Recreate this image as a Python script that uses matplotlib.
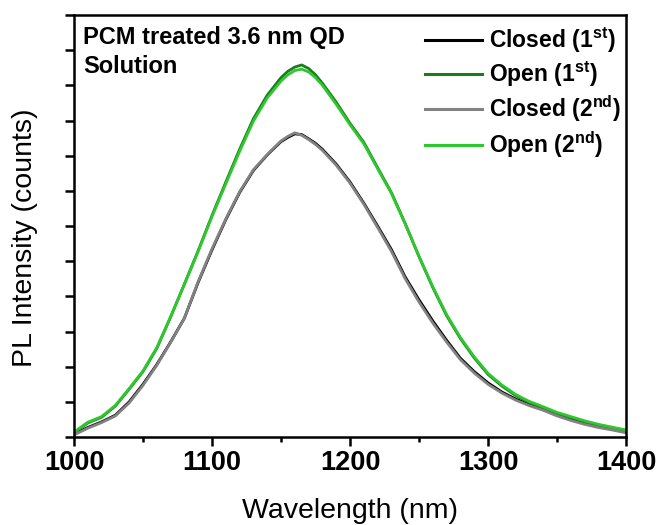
import matplotlib
matplotlib.use("Agg")
import matplotlib.pyplot as plt
from matplotlib.ticker import MultipleLocator, NullFormatter

plt.rcParams['font.family'] = ['Liberation Sans', 'DejaVu Sans']
plt.rcParams['mathtext.fontset'] = 'custom'
plt.rcParams['mathtext.rm'] = 'Liberation Sans:bold'
plt.rcParams['mathtext.bf'] = 'Liberation Sans:bold'

# ---- data ----
wavelength = [1000, 1010, 1020, 1030, 1040, 1050, 1060, 1070, 1080, 1090,
              1100, 1110, 1120, 1130, 1140, 1150, 1155, 1160, 1165, 1170,
              1175, 1180, 1190, 1200, 1210, 1220, 1230, 1240, 1250, 1260,
              1270, 1280, 1290, 1300, 1310, 1320, 1330, 1340, 1350, 1360,
              1370, 1380, 1390, 1400]

closed_1st = [0.08, 0.27, 0.43, 0.62, 1.00, 1.50, 2.06, 2.70, 3.38, 4.40,
              5.32, 6.18, 6.95, 7.58, 8.02, 8.40, 8.52, 8.62, 8.60, 8.48,
              8.35, 8.18, 7.76, 7.25, 6.65, 6.00, 5.33, 4.55, 3.90, 3.30,
              2.75, 2.24, 1.86, 1.54, 1.28, 1.08, 0.92, 0.79, 0.62, 0.50,
              0.38, 0.30, 0.22, 0.14]

open_1st = [0.12, 0.40, 0.56, 0.88, 1.36, 1.86, 2.52, 3.41, 4.35, 5.30,
            6.30, 7.25, 8.18, 9.05, 9.72, 10.22, 10.40, 10.52, 10.58, 10.48,
            10.30, 10.06, 9.52, 8.92, 8.38, 7.66, 6.95, 6.07, 5.13, 4.25,
            3.45, 2.80, 2.25, 1.78, 1.45, 1.18, 0.98, 0.83, 0.67, 0.55,
            0.44, 0.34, 0.26, 0.18]

closed_2nd = [0.06, 0.25, 0.41, 0.60, 0.97, 1.47, 2.04, 2.69, 3.38, 4.42,
              5.35, 6.20, 6.97, 7.60, 8.03, 8.42, 8.55, 8.65, 8.58, 8.46,
              8.32, 8.15, 7.73, 7.22, 6.62, 5.96, 5.28, 4.50, 3.84, 3.24,
              2.70, 2.20, 1.82, 1.50, 1.25, 1.05, 0.89, 0.76, 0.60, 0.47,
              0.36, 0.27, 0.20, 0.12]

open_2nd = [0.14, 0.42, 0.58, 0.90, 1.38, 1.88, 2.54, 3.42, 4.34, 5.28,
            6.27, 7.20, 8.12, 8.98, 9.64, 10.12, 10.30, 10.42, 10.46, 10.38,
            10.22, 10.00, 9.46, 8.88, 8.34, 7.63, 6.93, 6.06, 5.14, 4.27,
            3.48, 2.83, 2.28, 1.81, 1.48, 1.21, 1.01, 0.86, 0.70, 0.58,
            0.46, 0.36, 0.28, 0.20]

series_labels = [r'Closed (1$^{\mathbf{st}}$)', r'Open (1$^{\mathbf{st}}$)',
                 r'Closed (2$^{\mathbf{nd}}$)', r'Open (2$^{\mathbf{nd}}$)']
series_colors = ['#000000', '#1b7d1b', '#828282', '#2ec72e']
annotation = 'PCM treated 3.6 nm QD\nSolution'
x_ticks = [1000, 1100, 1200, 1300, 1400]

# ---- figure ----
fig = plt.figure(figsize=(6.6, 5.25), dpi=100)
ax = fig.add_axes([74/660, 1 - 437/525, (626-74)/660, (437-15)/525])

for ys, lab, col in zip([closed_1st, open_1st, closed_2nd, open_2nd],
                        series_labels, series_colors):
    ax.plot(wavelength, ys, color=col, lw=2.0, label=lab)

ax.set_xlim(1000, 1400)
ax.set_ylim(0, 12)
ax.set_xticks(x_ticks)
ax.set_xticklabels([str(t) for t in x_ticks], fontsize=19.5, fontweight='bold')
ax.xaxis.set_minor_locator(MultipleLocator(50))
ax.yaxis.set_major_locator(MultipleLocator(1))
ax.yaxis.set_major_formatter(NullFormatter())

for s in ax.spines.values():
    s.set_linewidth(1.8)
ax.tick_params(axis='both', which='major', direction='out', length=6.5, width=1.8, pad=3)
ax.tick_params(axis='x', which='minor', direction='out', length=3.5, width=1.8)

ax.set_xlabel('Wavelength (nm)', fontsize=20.5, labelpad=16)
ax.set_ylabel('PL Intensity (counts)', fontsize=20.5)
ax.yaxis.set_label_coords((38-74)/552, (437-238)/422)

ax.text(0.016, 0.975, annotation, transform=ax.transAxes, ha='left', va='top',
        fontsize=17, fontweight='bold', linespacing=1.38)

leg = ax.legend(loc='upper left', bbox_to_anchor=((425-74)/552, 0.974),
                frameon=False, borderpad=0, borderaxespad=0,
                handlelength=2.5, handletextpad=0.3, labelspacing=0.2,
                prop={'size': 16.5, 'weight': 'bold'})
for h in leg.get_lines():
    h.set_linewidth(2.2)

fig.savefig('out.png', dpi=100)
